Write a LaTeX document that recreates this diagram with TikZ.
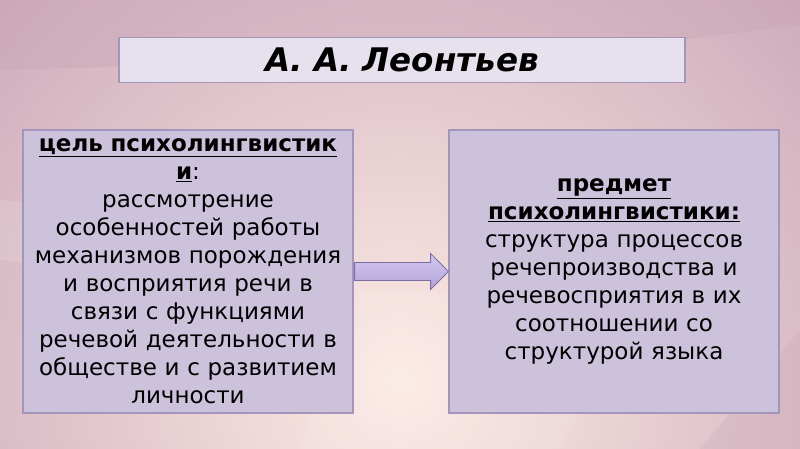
\documentclass[tikz,border=0pt]{standalone}
\usepackage{fontspec}
\setmainfont{DejaVu Sans}
\usetikzlibrary{positioning}
\usetikzlibrary{calc}
\definecolor{bgpeach}{HTML}{FCEAE4}
\definecolor{bgmauve}{HTML}{C8A4B6}
\definecolor{titlefill}{HTML}{E7E1EE}
\definecolor{boxfill}{HTML}{CCC2DC}
\definecolor{boxline}{HTML}{A495BA}
\definecolor{arrowfill}{HTML}{C4B6E6}
\definecolor{arrowline}{HTML}{7B6CA2}
\tikzset{x=1pt, y=-1pt,
titlebox/.style={ % Sets the properties of the heading
draw=boxline, line width=1.6pt,
fill=titlefill,
minimum width=566pt, minimum height=45pt,
font=\fontsize{32.5}{34}\selectfont\bfseries\itshape},
textbox/.style={ % Sets the properties of both text boxes
draw=boxline, line width=1.2pt,
fill=boxfill, inner sep=2pt,
minimum width=330pt, minimum height=283pt,
text width=324pt, align=center,
font=\fontsize{23}{28}\selectfont},
blockarrow/.style={ % Block arrow between the boxes
draw=arrowline, line width=0.8pt,
top color=arrowfill!75!white, bottom color=arrowfill!90!black,
middle color=arrowfill}}

\begin{document}
\begin{tikzpicture}
\useasboundingbox (0,0) rectangle (800,449);
% background
\begin{scope}
\clip (0,0) rectangle (800,449);
\shade[inner color=bgpeach, outer color=bgmauve] (400,380) circle (620);
\fill[bgmauve, opacity=0.35] (0,0) -- (800,0) -- (800,25) -- (560,55) -- (0,70) -- cycle;
\fill[white, opacity=0.12] (0,200) -- (330,225) -- (360,290) -- (0,260) -- cycle;
\fill[bgmauve, opacity=0.25] (700,449) -- (800,330) -- (800,449) -- cycle;
\fill[white, opacity=0.10] (360,290) -- (640,300) -- (560,449) -- (300,449) -- cycle;
\end{scope}
\node[titlebox] (author) at (402,60) {А. А. Леонтьев};
\node[textbox] (cel) at (188,271.5) {\textbf{\underline{цель психолингвистик}}\\\textbf{\underline{и}}:\\рассмотрение\\особенностей работы\\механизмов порождения\\и восприятия речи в\\связи с функциями\\речевой деятельности в\\обществе и с развитием\\личности};
\node[textbox] (predmet) at (614,271.5) {\textbf{\underline{предмет}}\\\textbf{\underline{психолингвистики:}}\\структура процессов\\речепроизводства и\\речевосприятия в их\\соотношении со\\структурой языка};
\draw[blockarrow] ($(cel.east)+(1,-9)$) -- ($(cel.east)+(77,-9)$) -- ($(cel.east)+(77,-18)$)
  -- (predmet.west) -- ($(cel.east)+(77,18)$) -- ($(cel.east)+(77,9)$) -- ($(cel.east)+(1,9)$) -- cycle;
\end{tikzpicture}
\end{document}
